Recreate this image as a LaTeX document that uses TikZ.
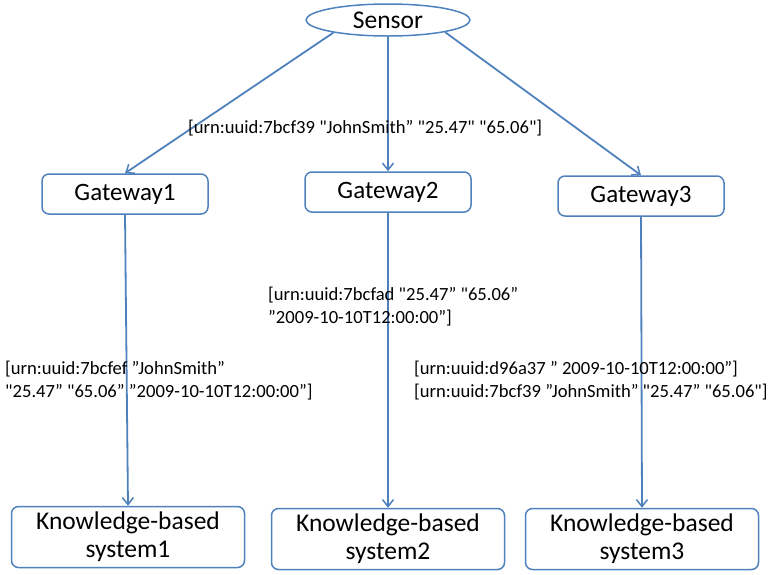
\documentclass[tikz,border=0pt]{standalone}
\usepackage{fontspec}
\setmainfont{Carlito}[Ligatures=TeXOff]
\usetikzlibrary{arrows.meta,shapes.geometric}
\definecolor{offblue}{RGB}{79,129,189}
\tikzset{
  flow/.style={draw=offblue, line width=1.8pt, -{Straight Barb[length=7pt,width=11pt,line width=1.5pt]}},
  unit/.style={draw=offblue, line width=1.5pt, rounded corners=7pt, fill=white,
    minimum width=166pt, minimum height=40pt, inner sep=0pt, align=center,
    font=\fontsize{25}{28}\selectfont},
  kbs/.style={unit, minimum width=233pt, minimum height=61pt, font=\fontsize{25.5}{28}\selectfont},
  msg/.style={align=left, anchor=west, inner sep=0pt, font=\fontsize{18.6}{23}\selectfont},
}
\begin{document}
\begin{tikzpicture}[x=1pt, y=-1pt]
\useasboundingbox (0,0) rectangle (769,574);
\node[ellipse, draw=offblue, line width=1.5pt, minimum width=164pt, minimum height=32pt,
      inner sep=0pt, font=\fontsize{25.5}{28}\selectfont] (sensor) at (388,20) {Sensor};
\node[unit] (gw1) at (125,194) {Gateway1};
\node[unit] (gw2) at (388,192) {Gateway2};
\node[unit] (gw3) at (641,196) {Gateway3};
\node[kbs] (kb1) at (128,537) {Knowledge-based\\system1};
\node[kbs] (kb2) at (388,539) {Knowledge-based\\system2};
\node[kbs] (kb3) at (642,539) {Knowledge-based\\system3};

\draw[flow] (sensor.193) -- (gw1.north);
\draw[flow] (sensor.south) -- (gw2.north);
\draw[flow] (sensor.348) -- (gw3.north);
\draw[flow] (gw1.south) -- (kb1.north);
\draw[flow] (gw2.south) -- (kb2.north);
\draw[flow] (gw3.south) -- (kb3.north);

\node[msg] (m1) at (188,128) {[urn:uuid:7bcf39 "JohnSmith” "25.47" "65.06"]};
\node[msg] (m2) at (268,307) {[urn:uuid:7bcfad "25.47” "65.06”\\”2009-10-10T12:00:00”]};
\node[msg] (m3) at (5,381) {[urn:uuid:7bcfef ”JohnSmith”\\"25.47” "65.06” ”2009-10-10T12:00:00”]};
\node[msg] (m4) at (414,381) {[urn:uuid:d96a37 ” 2009-10-10T12:00:00”]\\\relax[urn:uuid:7bcf39 ”JohnSmith” "25.47” "65.06"]};
\end{tikzpicture}
\end{document}
